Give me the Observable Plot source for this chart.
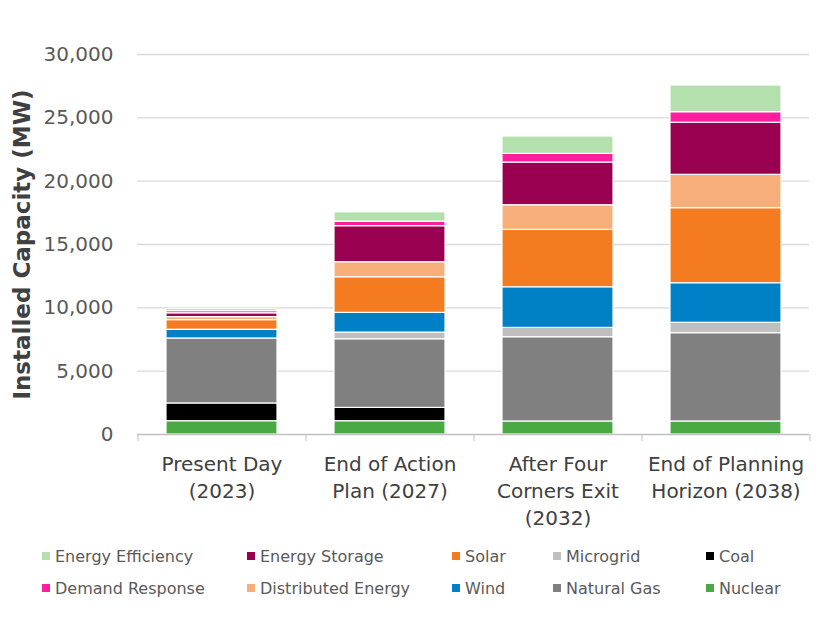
<!DOCTYPE html>
<html><head><meta charset="utf-8">
<script src="https://cdn.jsdelivr.net/npm/d3@7"></script>
<script src="https://cdn.jsdelivr.net/npm/@observablehq/plot@0.6"></script>
<style>
body{margin:0;background:#fff;font-family:"DejaVu Sans",Verdana,sans-serif;}
#chart{width:826px;position:relative;}
.legend{display:grid;grid-template-columns:205px 205px 101px 153px 110px;grid-auto-rows:32px;padding-left:42px;align-items:center;font-size:16px;color:#595959;}
.legend .item{display:flex;align-items:center;white-space:nowrap;}
.legend .sw{width:8px;height:8px;margin-right:5px;flex:none;}
</style>
</head><body>
<div id="chart"></div>
<script>
const scenarios = ["Present Day (2023)", "End of Action Plan (2027)", "After Four Corners Exit (2032)", "End of Planning Horizon (2038)"];
const tickLabels = ["Present Day\n(2023)", "End of Action\nPlan (2027)", "After Four\nCorners Exit\n(2032)", "End of Planning\nHorizon (2038)"];
const yTicks = [0, 5000, 10000, 15000, 20000, 25000, 30000];

// stacking order, bottom to top
const seriesNames = ["Nuclear", "Coal", "Natural Gas", "Microgrid", "Wind", "Solar", "Distributed Energy", "Energy Storage", "Demand Response", "Energy Efficiency"];
const seriesColors = ["#49a942", "#000000", "#808080", "#bfbfbf", "#0080c6", "#f47b20", "#f7ae78", "#99004f", "#ff1f9e", "#b3e0ad"];

const nuclear = [1050, 1050, 1030, 1030];
const coal = [1400, 1050, 0, 0];
const naturalGas = [5130, 5420, 6650, 6970];
const microgrid = [0, 525, 735, 820];
const wind = [690, 1560, 3210, 3125];
const solar = [760, 2810, 4530, 5925];
const distributedEnergy = [240, 1185, 1945, 2630];
const energyStorage = [300, 2845, 3370, 4110];
const demandResponse = [170, 365, 685, 835];
const energyEfficiency = [170, 735, 1370, 2110];

// legend order (row by row)
const legendOrder = ["Energy Efficiency", "Energy Storage", "Solar", "Microgrid", "Coal", "Demand Response", "Distributed Energy", "Wind", "Natural Gas", "Nuclear"];

const seriesValues = [nuclear, coal, naturalGas, microgrid, wind, solar, distributedEnergy, energyStorage, demandResponse, energyEfficiency];
const data = [];
seriesNames.forEach((s, si) => scenarios.forEach((c, ci) => data.push({scenario: c, series: s, value: seriesValues[si][ci]})));
const labelOf = new Map(scenarios.map((c, i) => [c, tickLabels[i]]));

const chart = Plot.plot({
  width: 826, height: 540,
  marginTop: 54, marginBottom: 106, marginLeft: 137, marginRight: 17,
  style: {fontFamily: "DejaVu Sans, Verdana, sans-serif", fontSize: "20px", background: "#fff"},
  x: {domain: scenarios, paddingInner: 0.34, paddingOuter: 0.17, label: null},
  y: {domain: [0, 30000], label: null},
  color: {domain: seriesNames, range: seriesColors},
  marks: [
    Plot.gridY(yTicks.slice(1), {stroke: "#d9d9d9", strokeOpacity: 1, strokeWidth: 1.3}),
    Plot.barY(data, Plot.stackY({order: seriesNames}, {x: "scenario", y: "value", z: "series", fill: "series", stroke: "white", strokeWidth: 1.2})),
    Plot.ruleY([0], {stroke: "#bfbfbf", strokeWidth: 1.3}),
    Plot.axisY(yTicks, {tickSize: 0, tickPadding: 24, fill: "#595959", fontSize: 20, tickFormat: d3.format(","), label: null}),
    Plot.axisX({tickSize: 0, tickPadding: 17, fill: "#404040", fontSize: 20, lineHeight: 1.35, tickFormat: d => labelOf.get(d), label: null}),
    Plot.axisX({tickSize: 7, dx: 84, stroke: "#bfbfbf", text: null, label: null}),
    Plot.axisX([scenarios[0]], {tickSize: 7, dx: -84, stroke: "#bfbfbf", text: null, label: null}),
    Plot.text(["Installed Capacity (MW)"], {frameAnchor: "left", textAnchor: "middle", rotate: -90, dx: -115, fontSize: 23, fontWeight: "bold", fill: "#404040"})
  ]
});
document.getElementById("chart").appendChild(chart);

const legend = document.createElement("div");
legend.className = "legend";
legendOrder.forEach(name => {
  const it = document.createElement("div");
  it.className = "item";
  const sw = document.createElement("span");
  sw.className = "sw";
  sw.style.background = seriesColors[seriesNames.indexOf(name)];
  it.appendChild(sw);
  it.appendChild(document.createTextNode(name));
  legend.appendChild(it);
});
document.getElementById("chart").appendChild(legend);
</script>
</body></html>
